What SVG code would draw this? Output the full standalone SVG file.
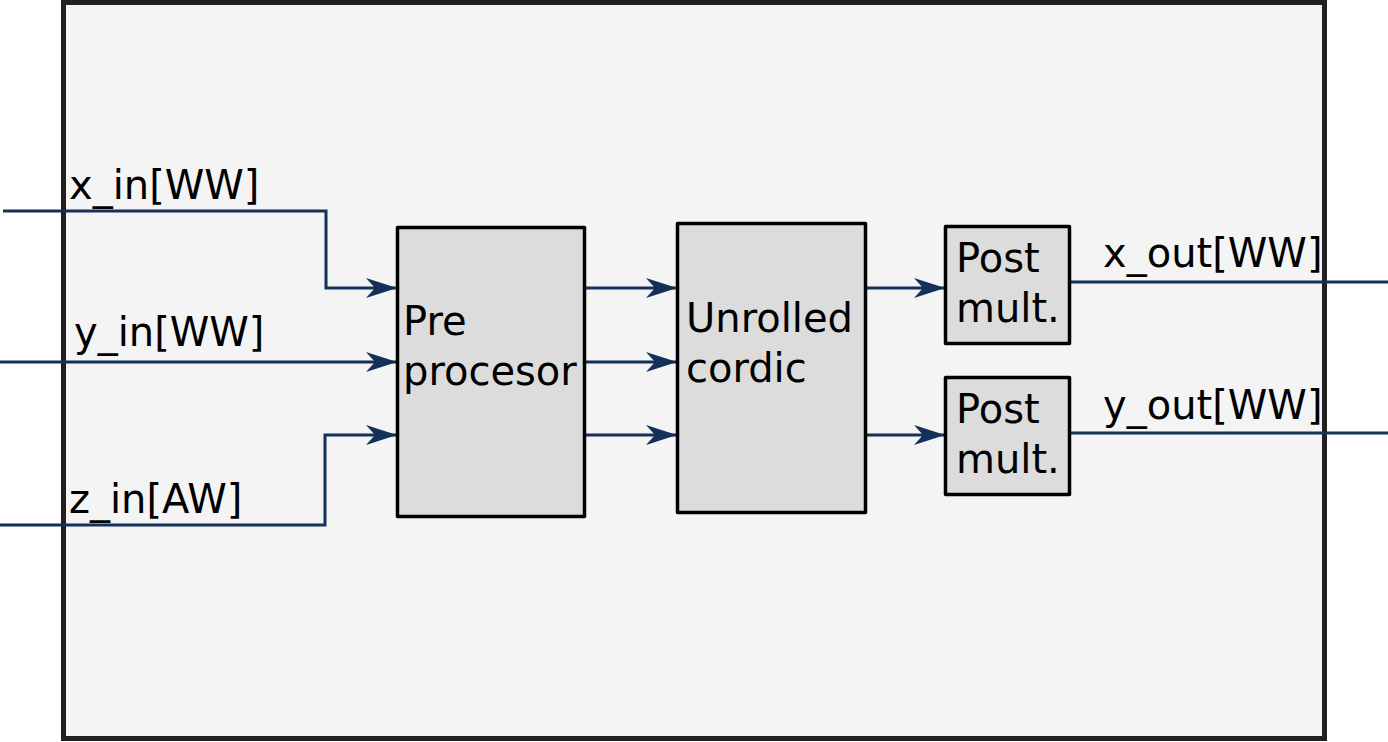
<svg xmlns="http://www.w3.org/2000/svg" width="1388" height="742" viewBox="0 0 1388 742">
<style>
.blk{fill:#dcdcdc;stroke:#000;stroke-width:3.5;stroke-linejoin:round}
.w{fill:none;stroke:#15315a;stroke-width:3}
.t{font-family:"DejaVu Sans",sans-serif;font-size:40px;fill:#000}
</style>
<defs>
<marker id="ah" markerUnits="userSpaceOnUse" markerWidth="36" markerHeight="24" refX="33" refY="12" orient="auto" overflow="visible">
<path d="M33,12 L2,2 L11,12 L2,22 Z" fill="#15315a"/>
</marker>
</defs>
<rect id="outer" x="63.5" y="2.5" width="1261" height="736" fill="#f4f4f4" stroke="#231f1c" stroke-width="5"/>
<g id="connectors">
<polyline class="w" points="3,211 326,211 326,288 397,288" marker-end="url(#ah)"/>
<polyline class="w" points="0,362 397,362" marker-end="url(#ah)"/>
<polyline class="w" points="0,525 325,525 325,435 397,435" marker-end="url(#ah)"/>
<polyline class="w" points="585,288 677,288" marker-end="url(#ah)"/>
<polyline class="w" points="585,362 677,362" marker-end="url(#ah)"/>
<polyline class="w" points="585,435 677,435" marker-end="url(#ah)"/>
<polyline class="w" points="866,288 945,288" marker-end="url(#ah)"/>
<polyline class="w" points="866,435 945,435" marker-end="url(#ah)"/>
<polyline class="w" points="1070,282 1388,282"/>
<polyline class="w" points="1070,433 1388,433"/>
</g>
<g id="labels">
<text class="t" x="69" y="199">x_in[WW]</text>
<text class="t" x="74" y="346">y_in[WW]</text>
<text class="t" x="69" y="513">z_in[AW]</text>
<text class="t" x="1103" y="267">x_out[WW]</text>
<text class="t" x="1103" y="419">y_out[WW]</text>
</g>
<g id="preprocessor">
<rect class="blk" x="397.5" y="227.5" width="187" height="289"/>
<text class="t" x="403" y="335">Pre</text>
<text class="t" x="403" y="385">procesor</text>
</g>
<g id="cordic">
<rect class="blk" x="677.5" y="223.5" width="188" height="289"/>
<text class="t" x="686" y="332">Unrolled</text>
<text class="t" x="686" y="382">cordic</text>
</g>
<g id="postmult1">
<rect class="blk" x="945.5" y="226.5" width="124" height="117"/>
<text class="t" x="956" y="272">Post</text>
<text class="t" x="956" y="322">mult.</text>
</g>
<g id="postmult2">
<rect class="blk" x="945.5" y="377.5" width="124" height="117"/>
<text class="t" x="956" y="423">Post</text>
<text class="t" x="956" y="473">mult.</text>
</g>
</svg>
